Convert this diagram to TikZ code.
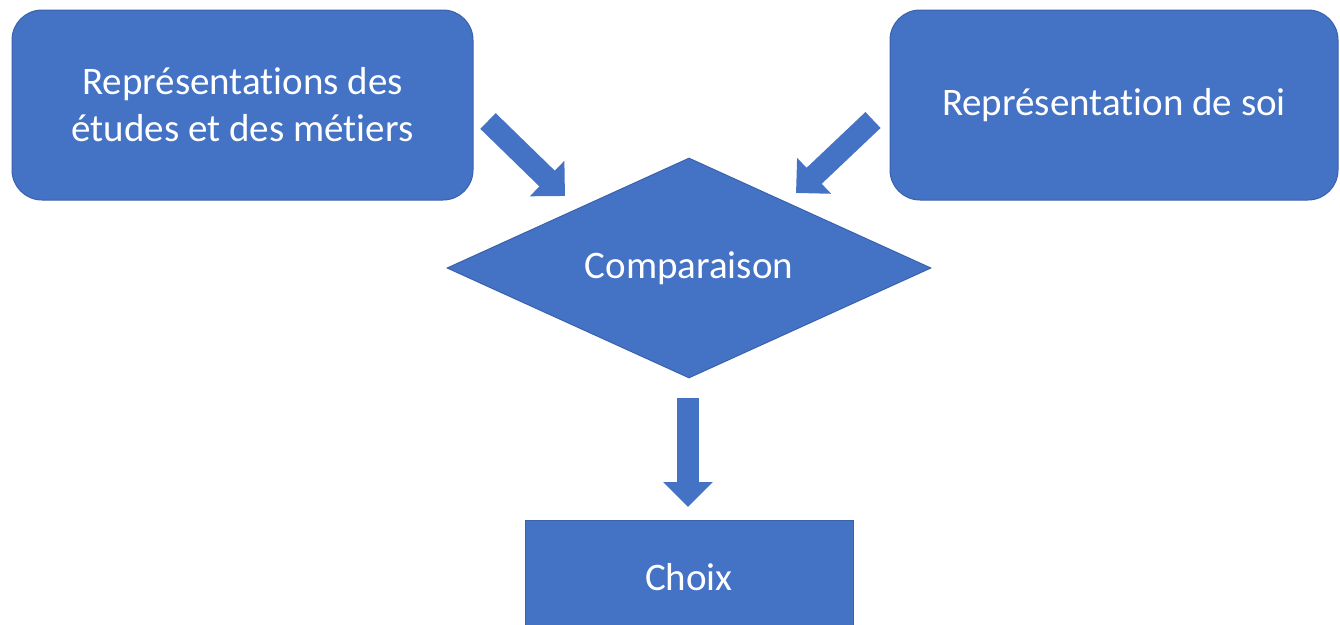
\documentclass[tikz,border=0pt]{standalone}
\usepackage{fontspec}
\setmainfont[Ligatures=NoCommon]{Carlito}
\usetikzlibrary{shapes.geometric,arrows.meta}
\definecolor{boxblue}{RGB}{68,114,196}
\definecolor{edgeblue}{RGB}{58,98,172}
\tikzset{
    block/.style={fill=boxblue, draw=edgeblue, line width=1pt, text=white, align=center, inner sep=0pt,
        font=\fontsize{39}{47}\selectfont},
    bigarrow/.style={boxblue, line width=22pt, -{Triangle[length=25pt,width=48pt]}}
}
\begin{document}
\begin{tikzpicture}[x=1pt,y=-1pt]

    \useasboundingbox (0,0) rectangle (1340,624);
    \clip (0,0) rectangle (1340,624);

    \node[block, rounded corners=30pt, minimum width=461pt, minimum height=190pt] (etudes) at (242.5,105) {Représentations des\\études et des métiers};
    \node[block, rounded corners=30pt, minimum width=448pt, minimum height=190pt] (soi) at (1114,105) {Représentation de soi};
    \node[block, diamond, aspect=2.2, minimum width=484pt, minimum height=220pt] (comp) at (689,268) {Comparaison};
    \node[block, minimum width=328pt, minimum height=114pt] (choix) at (689,577) {Choix};

    \coordinate (etudes out) at (488,121);
    \coordinate (comp in1) at (565,196);
    \coordinate (soi out) at (873,120);
    \coordinate (comp in2) at (796,193);
    \coordinate (comp out) at (688,398);
    \coordinate (choix in) at (688,507);

    \draw[bigarrow] (etudes out) -- (comp in1);
    \draw[bigarrow] (soi out) -- (comp in2);
    \draw[bigarrow] (comp out) -- (choix in);

\end{tikzpicture}
\end{document}
